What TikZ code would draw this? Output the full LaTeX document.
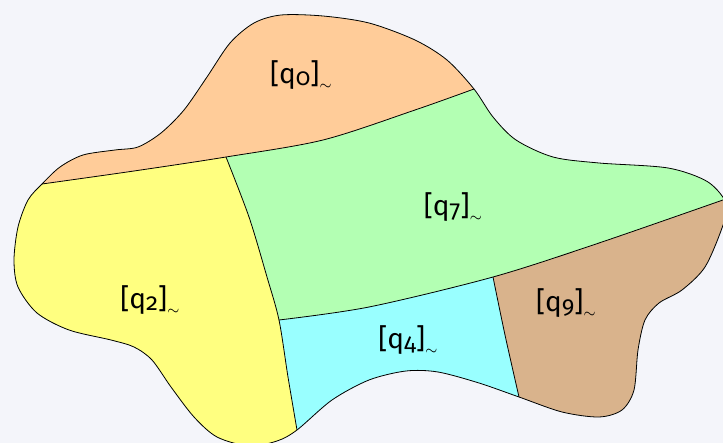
\documentclass[tikz,border=0pt]{standalone}
\usepackage{fontspec}
\setmainfont[Numbers=OldStyle]{Fira Sans}
\usetikzlibrary{positioning}

\definecolor{pagebg}{RGB}{244,245,250}
\definecolor{peach}{RGB}{255,204,153}
\definecolor{lemon}{RGB}{255,255,128}
\definecolor{mint}{RGB}{179,255,179}
\definecolor{aqua}{RGB}{153,255,255}
\definecolor{tanbrown}{RGB}{217,179,140}

\newcommand{\eqcls}[1]{[q\raisebox{-0.15ex}{\fontsize{12}{14}\selectfont #1}]\raisebox{-0.45ex}{\scriptsize$\sim$}}

\newcommand{\blobpath}{plot[smooth cycle] coordinates {(42,184) (60,167) (83,155) (115,150) (138,147) (161,133) (184,110) (207,77) (230,43) (254,23) (281,15) (323,16) (369,23) (415,40) (447,60) (474,89) (493,117) (516,140) (553,157) (599,163) (668,168) (708,182) (727,205) (722,228) (705,267) (682,290) (659,303) (645,320) (638,350) (634,390) (622,410) (599,417) (562,412) (519,397) (479,383) (438,372) (406,371) (369,380) (332,400) (297,430) (277,441) (249,446) (217,437) (194,417) (171,387) (152,360) (134,347) (111,340) (69,330) (37,313) (18,287) (14,260) (18,227) (28,200)}}

\tikzset{
  divtop/.style={insert path={-- plot[smooth] coordinates {(42,184) (134,171) (226,157) (323,140) (415,110) (474,89)}}},
  divmid/.style={insert path={-- plot[smooth] coordinates {(226,157) (249,217) (267,277) (279,320) (288,377) (297,430)}}},
  divlow/.style={insert path={-- plot[smooth] coordinates {(279,320) (369,307) (493,277) (599,243) (740,194)}}},
  divright/.style={insert path={-- plot[smooth] coordinates {(493,277) (505,335) (519,397)}}},
  region/.style={draw=none},
  border/.style={draw=black, line width=0.4pt},
  lbl/.style={font=\fontsize{14}{16}\selectfont, inner sep=0pt}
}

\begin{document}
\begin{tikzpicture}[x=0.5pt,y=-0.5pt]
\useasboundingbox (0,0) rectangle (723,443);
\fill[pagebg] (0,0) rectangle (723,443);

\begin{scope}
\clip \blobpath;
\fill[region,aqua] (-20,-20) rectangle (760,480);
\fill[region,tanbrown] (480,-20) -- (493,277) [divright] -- (525,480) -- (760,480) -- (760,-20) -- cycle;
\fill[region,mint] (-20,335) -- (279,320) [divlow] -- (760,-20) -- (-20,-20) -- cycle;
\fill[region,lemon] (200,-20) -- (226,157) [divmid] -- (305,480) -- (-20,480) -- (-20,-20) -- cycle;
\fill[region,peach] (-20,190) -- (42,184) [divtop] -- (760,55) -- (760,-20) -- (-20,-20) -- cycle;
\draw[border] (42,184) [divtop];
\draw[border] (226,157) [divmid];
\draw[border] (279,320) [divlow];
\draw[border] (493,277) [divright];
\end{scope}
\draw[border] \blobpath;

\node[lbl] (q0) at (301,75) {\eqcls{0}};
\node[lbl] (q7) at (453,207) {\eqcls{7}};
\node[lbl] (q2) at (150,300) {\eqcls{2}};
\node[lbl] (q4) at (408,340) {\eqcls{4}};
\node[lbl] (q9) at (566,303) {\eqcls{9}};
\end{tikzpicture}
\end{document}
